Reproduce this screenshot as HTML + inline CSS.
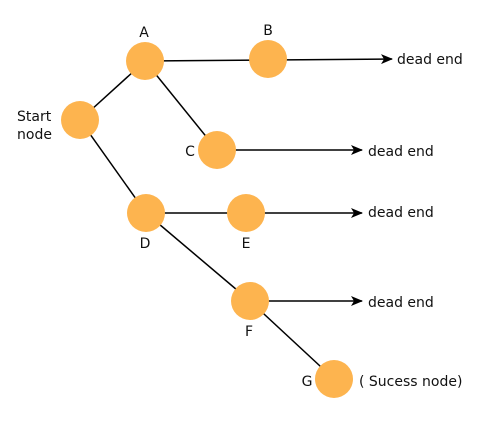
<!DOCTYPE html>
<html><head><meta charset="utf-8"><style>
html,body{margin:0;padding:0;background:#fff;}
svg{display:block;}
text{font-family:"DejaVu Sans",sans-serif;font-size:14px;fill:#111;}
</style></head><body>
<svg width="498" height="422" viewBox="0 0 498 422" xmlns="http://www.w3.org/2000/svg">
<defs><marker id="ar" markerWidth="12" markerHeight="10" refX="11" refY="5" orient="auto" markerUnits="userSpaceOnUse"><path d="M0,0 L12,5 L0,10 L3,5 Z" fill="#000"/></marker></defs>
<g stroke="#000" stroke-width="1.5" fill="none">
<line x1="80" y1="120" x2="145" y2="61"/>
<line x1="80" y1="120" x2="146" y2="213"/>
<line x1="145" y1="61" x2="217" y2="150"/>
<line x1="145" y1="61" x2="392" y2="59" marker-end="url(#ar)"/>
<line x1="217" y1="150" x2="362" y2="150" marker-end="url(#ar)"/>
<line x1="146" y1="213" x2="362" y2="213" marker-end="url(#ar)"/>
<line x1="146" y1="213" x2="250" y2="301"/>
<line x1="250" y1="301" x2="362" y2="301" marker-end="url(#ar)"/>
<line x1="250" y1="301" x2="334" y2="379"/>
</g>
<g fill="#FDB44F">
<circle cx="80" cy="120" r="19"/>
<circle cx="145" cy="61" r="19"/>
<circle cx="268" cy="59" r="19"/>
<circle cx="217" cy="150" r="19"/>
<circle cx="146" cy="213" r="19"/>
<circle cx="246" cy="213" r="19"/>
<circle cx="250" cy="301" r="19"/>
<circle cx="334" cy="379" r="19"/>
</g>
<text x="17" y="121">Start</text>
<text x="17" y="139">node</text>
<text x="144" y="37" text-anchor="middle">A</text>
<text x="268" y="35" text-anchor="middle">B</text>
<text x="190" y="156" text-anchor="middle">C</text>
<text x="145" y="248" text-anchor="middle">D</text>
<text x="246" y="248" text-anchor="middle">E</text>
<text x="249" y="336" text-anchor="middle">F</text>
<text x="307" y="386" text-anchor="middle">G</text>
<text x="397" y="64">dead end</text>
<text x="368" y="156">dead end</text>
<text x="368" y="217">dead end</text>
<text x="368" y="307">dead end</text>
<text x="359" y="386">( Sucess node)</text>
</svg>
</body></html>
